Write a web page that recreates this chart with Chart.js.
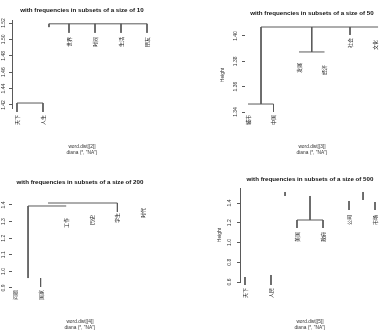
<!DOCTYPE html>
<html lang="zh">
<head>
<meta charset="UTF-8">
<title>diana dendrograms</title>
<script src="https://cdn.jsdelivr.net/npm/chart.js"></script>
<style>
  body { margin: 0; background: #fff; }
  #wrap { position: relative; width: 381px; height: 333px; }
  canvas { position: absolute; }
</style>
</head>
<body>
<div id="wrap">
  <canvas id="c1" width="190" height="165" style="left:0;top:0"></canvas>
  <canvas id="c2" width="191" height="165" style="left:190px;top:0"></canvas>
  <canvas id="c3" width="190" height="168" style="left:0;top:165px"></canvas>
  <canvas id="c4" width="191" height="168" style="left:190px;top:165px"></canvas>
</div>
<script>
// ---- panel 1: size 10
const p1Title = 'with frequencies in subsets of a size of 10';
const p1Sub = ['word.dist[[2]]', 'diana (*, "NA")'];
const p1Ticks = [1.42, 1.44, 1.46, 1.48, 1.50, 1.52];
const p1Labels = ['天下', '人生', '世界', '时间', '生活', '朋友'];
const p1LabelTop = [1.4078, 1.4078, 1.5029, 1.5029, 1.5029, 1.5029];
// [xFrom, xTo, height]
const p1Bars = [[1, 2, 1.4224], [2.23, 6, 1.519]];
// [x, top, bottom]
const p1Stems = [[1, 1.4224, 1.4115], [2, 1.4224, 1.4115], [2.23, 1.519, 1.515],
  [3, 1.519, 1.508], [4, 1.519, 1.508], [5, 1.519, 1.508], [6, 1.519, 1.508]];

// ---- panel 2: size 50
const p2Title = 'with frequencies in subsets of a size of 50';
const p2Sub = ['word.dist[[3]]', 'diana (*, "NA")'];
const p2Ticks = [1.34, 1.36, 1.38, 1.40];
const p2Labels = ['城市', '中国', '发展', '经济', '社会', '文化'];
const p2LabelTop = [1.3376, 1.3376, 1.3787, 1.3771, 1.3984, 1.3968];
const p2Bars = [[1.51, 6.1, 1.4071], [1, 2, 1.3463], [3, 4, 1.3874]];
const p2Stems = [[1.51, 1.4071, 1.3463], [2, 1.3463, 1.34], [3.5, 1.4071, 1.3874], [5, 1.4071, 1.4008]];

// ---- panel 3: size 200
const p3Title = 'with frequencies in subsets of a size of 200';
const p3Sub = ['word.dist[[4]]', 'diana (*, "NA")'];
const p3Ticks = [0.9, 1.0, 1.1, 1.2, 1.3, 1.4];
const p3Labels = ['问题', '国家', '工作', '历史', '学生', '时代'];
const p3LabelTop = [0.888, 0.888, 1.3217, 1.3398, 1.3518, 1.3819];
const p3Bars = [[2.29, 5, 1.412], [1.51, 3, 1.394]];
const p3Stems = [[5, 1.412, 1.3578], [1.51, 1.394, 0.960], [2, 0.960, 0.906]];

// ---- panel 4: size 500
const p4Title = 'with frequencies in subsets of a size of 500';
const p4Sub = ['word.dist[[5]]', 'diana (*, "NA")'];
const p4Ticks = [0.6, 0.8, 1.0, 1.2, 1.4];
const p4Labels = ['天下', '人民', '美国', '政府', '公司', '市场'];
const p4LabelTop = [0.5392, 0.5392, 1.1063, 1.1063, 1.2785, 1.2785];
const p4Bars = [[3, 4, 1.2278]];
const p4Stems = [[1, 0.6506, 0.5696], [2, 0.6709, 0.5696], [2.54, 1.5114, 1.4709], [3.5, 1.4709, 1.2278],
  [3, 1.2278, 1.1468], [4, 1.2278, 1.1468], [5, 1.4203, 1.3291], [5.54, 1.5114, 1.4304], [6, 1.4101, 1.3291]];

Chart.defaults.font.family = '"Liberation Sans", Arial, sans-serif';

// turn bars and stems into one broken polyline
function segments(bars, stems) {
  const pts = [];
  bars.forEach(b => pts.push({x: b[0], y: b[2]}, {x: b[1], y: b[2]}, {x: b[1], y: null}));
  stems.forEach(s => pts.push({x: s[0], y: s[1]}, {x: s[0], y: s[2]}, {x: s[0], y: null}));
  return pts;
}

// hanging leaf labels, rotated like R's las=2
const leafLabels = {
  id: 'leafLabels',
  afterDatasetsDraw(chart, args, opts) {
    const {ctx, scales: {x, y}} = chart;
    ctx.save();
    ctx.fillStyle = '#222';
    ctx.font = '5px "Noto Sans CJK SC"';
    ctx.textAlign = 'right';
    ctx.textBaseline = 'middle';
    opts.labels.forEach((t, i) => {
      ctx.save();
      ctx.translate(x.getPixelForValue(i + 1), y.getPixelForValue(opts.tops[i]));
      ctx.rotate(-Math.PI / 2);
      ctx.fillText(t, 0, 0);
      ctx.restore();
    });
    ctx.restore();
  }
};

function panel(id, d, L) {
  return new Chart(document.getElementById(id), {
    type: 'scatter',
    data: {
      datasets: [{
        data: segments(d.bars, d.stems),
        showLine: true,
        spanGaps: false,
        borderColor: '#5a5a5a',
        borderWidth: 1,
        pointRadius: 0,
        clip: false
      }]
    },
    options: {
      responsive: false,
      animation: false,
      devicePixelRatio: 1,
      layout: { padding: { left: 0, right: L.padRight, top: 0, bottom: 0 } },
      plugins: {
        legend: { display: false },
        tooltip: { enabled: false },
        title: {
          display: true, text: d.title, fullSize: false, color: '#111',
          font: { size: 6.2, weight: 'bold', lineHeight: 1.2 },
          padding: { top: L.titleTop, bottom: L.titleBottom }
        },
        subtitle: {
          display: true, position: 'bottom', text: d.sub, fullSize: false, color: '#333',
          font: { size: 4.8, lineHeight: 1.25 },
          padding: { top: L.subTop, bottom: L.subBottom }
        },
        leafLabels: { labels: d.labels, tops: d.tops }
      },
      scales: {
        x: { type: 'linear', display: false, min: L.xMin, max: L.xMax },
        y: {
          type: 'linear', min: L.yMin, max: L.yMax,
          afterBuildTicks: s => { s.ticks = d.ticks.map(v => ({ value: v })); },
          afterFit: s => { s.width = L.axisX; },
          border: { display: L.axisLine, color: '#5a5a5a', width: 1 },
          grid: { drawOnChartArea: false, drawTicks: true, tickLength: 3, color: '#5a5a5a' },
          ticks: {
            autoSkip: false, minRotation: 90, maxRotation: 90, crossAlign: 'center',
            padding: L.tickPad, color: '#333', font: { size: 5 },
            callback: v => v.toFixed(L.dec)
          },
          title: {
            display: !!L.yTitle, text: L.yTitle || '', color: '#333', font: { size: 5 },
            padding: { top: L.yTitlePad || 0, bottom: 0 }
          }
        }
      }
    },
    plugins: [leafLabels]
  });
}

panel('c1',
  { title: p1Title, sub: p1Sub, ticks: p1Ticks, labels: p1Labels, tops: p1LabelTop, bars: p1Bars, stems: p1Stems },
  { axisX: 12, padRight: 38, xMin: 0.808, xMax: 6.192, yMin: 1.41634, yMax: 1.52366, dec: 2,
    titleTop: 6.28, titleBottom: 6.28, subTop: 36, subBottom: 9, tickPad: 1, axisLine: true });

panel('c2',
  { title: p2Title, sub: p2Sub, ticks: p2Ticks, labels: p2Labels, tops: p2LabelTop, bars: p2Bars, stems: p2Stems },
  { axisX: 55, padRight: 2, xMin: 0.882, xMax: 6.137, yMin: 1.32579, yMax: 1.41263, dec: 2,
    titleTop: 9.28, titleBottom: 3.28, subTop: 14, subBottom: 9, tickPad: 2, axisLine: false,
    yTitle: 'Height', yTitlePad: 30 });

panel('c3',
  { title: p3Title, sub: p3Sub, ticks: p3Ticks, labels: p3Labels, tops: p3LabelTop, bars: p3Bars, stems: p3Stems },
  { axisX: 12, padRight: 42, xMin: 0.883, xMax: 6.195, yMin: 0.82771, yMax: 1.46024, dec: 1,
    titleTop: 13.28, titleBottom: 9.28, subTop: 19, subBottom: 2, tickPad: 2, axisLine: false });

panel('c4',
  { title: p4Title, sub: p4Sub, ticks: p4Ticks, labels: p4Labels, tops: p4LabelTop, bars: p4Bars, stems: p4Stems },
  { axisX: 50, padRight: 1, xMin: 0.808, xMax: 6.192, yMin: 0.6, yMax: 1.5519, dec: 1,
    titleTop: 10.28, titleBottom: 5.28, subTop: 37, subBottom: 2, tickPad: 3.5, axisLine: true,
    yTitle: 'Height', yTitlePad: 27 });
</script>
</body>
</html>
